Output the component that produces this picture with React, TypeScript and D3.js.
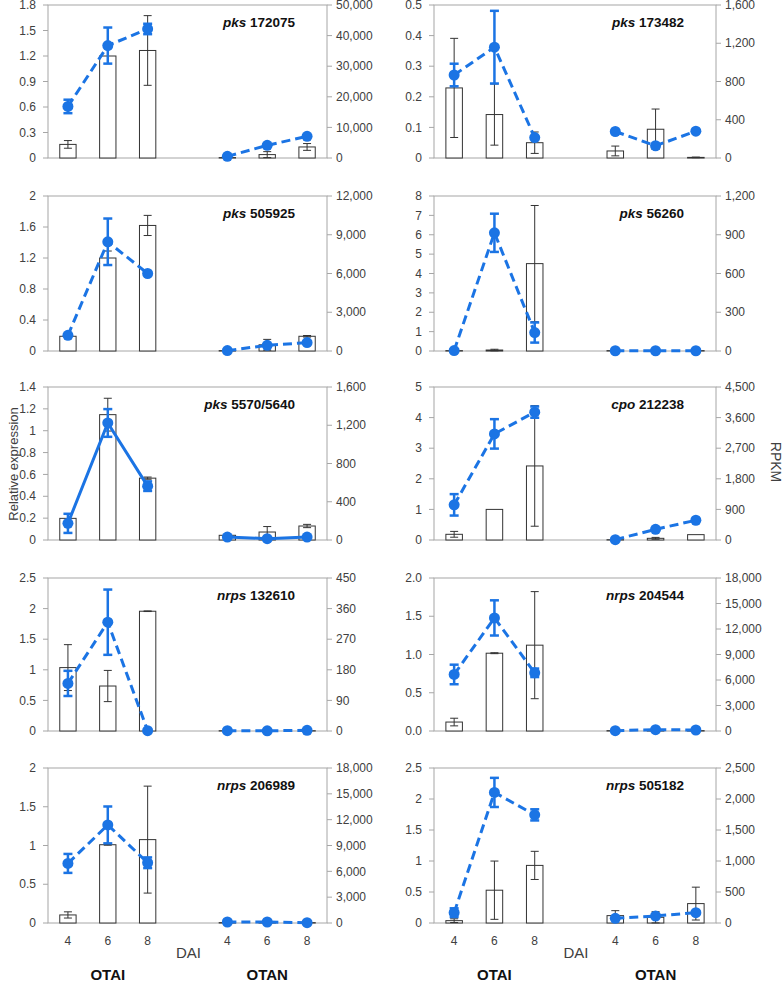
import React from "react";
import * as d3 from "d3";

const categories = ["OTAI-4", "OTAI-6", "OTAI-8", "gap", "OTAN-4", "OTAN-6", "OTAN-8"];
const dayLabels = ["4", "6", "8", "", "4", "6", "8"];
const genePrefixes = ["pks", "pks", "pks", "pks", "pks", "cpo", "nrps", "nrps", "nrps", "nrps"];
const geneIds = ["172075", "173482", "505925", "56260", "5570/5640", "212238", "132610", "204544", "206989", "505182"];

// relative expression (bars), 6 values each: OTAI 4,6,8, OTAN 4,6,8
const barValues = [
  [0.16, 1.2, 1.265, 0.005, 0.04, 0.13],
  [0.229, 0.142, 0.05, 0.023, 0.094, 0.002],
  [0.19, 1.2, 1.62, 0.005, 0.08, 0.19],
  [0.02, 0.05, 4.51, 0.02, 0.02, 0.02],
  [0.198, 1.147, 0.566, 0.043, 0.073, 0.128],
  [0.186, 1.0, 2.42, 0.01, 0.055, 0.175],
  [1.036, 0.735, 1.957, 0.005, 0.005, 0.005],
  [0.117, 1.017, 1.122, 0.005, 0.005, 0.005],
  [0.104, 1.01, 1.076, 0.005, 0.005, 0.005],
  [0.038, 0.529, 0.929, 0.119, 0.092, 0.313],
];
const barErrors = [
  [0.045, 0.0, 0.41, 0.0, 0.035, 0.04],
  [0.162, 0.1, 0.035, 0.016, 0.066, 0.001],
  [0.0, 0.09, 0.13, 0.0, 0.07, 0.01],
  [0.0, 0.04, 3.0, 0.0, 0.0, 0.0],
  [0.0, 0.15, 0.01, 0.005, 0.05, 0.015],
  [0.095, 0.0, 1.97, 0.0, 0.03, 0.0],
  [0.375, 0.255, 0.005, 0.0, 0.0, 0.0],
  [0.05, 0.006, 0.7, 0.0, 0.0, 0.0],
  [0.04, 0.006, 0.69, 0.0, 0.0, 0.0],
  [0.03, 0.47, 0.227, 0.08, 0.09, 0.265],
];
// RPKM (line)
const lineValues = [
  [16850, 36740, 42170, 540, 4130, 7070],
  [868, 1159, 214, 277, 128, 280],
  [1215, 8456, 6000, 30, 440, 650],
  [3, 915, 143, 2, 2, 2],
  [174, 1224, 563, 31, 14, 31],
  [1034, 3121, 3761, 10, 315, 581],
  [140, 320, 1, 1, 0.5, 2],
  [6652, 13304, 6848, 40, 157, 117],
  [6920, 11391, 6998, 117, 117, 39],
  [167, 2106, 1744, 76, 113, 167],
];
const lineErrors = [
  [2200, 5900, 1700, 0, 0, 0],
  [118, 380, 0, 0, 0, 0],
  [0, 1800, 0, 0, 0, 0],
  [0, 148, 78, 0, 0, 0],
  [100, 145, 50, 0, 0, 0],
  [315, 433, 165, 0, 0, 0],
  [37, 96, 0, 0, 0, 0],
  [1150, 2070, 500, 0, 0, 0],
  [1100, 2140, 620, 0, 0, 0],
  [70, 235, 90, 0, 0, 0],
];
const leftMax = [1.8, 0.5, 2, 8, 1.4, 5, 2.5, 2.0, 2, 2.5];
const leftStep = [0.3, 0.1, 0.4, 1, 0.2, 1, 0.5, 0.5, 0.5, 0.5];
const leftFormat = ["~", "~", "~", "~", "~", "~", "~", ".1f", "~", "~"];
const rightMax = [50000, 1600, 12000, 1200, 1600, 4500, 450, 18000, 18000, 2500];
const rightStep = [10000, 400, 3000, 300, 400, 900, 90, 3000, 3000, 500];
const solidLine = [false, false, false, false, true, false, false, false, false, false];

const colX = [
  [48, 327],
  [434, 716],
];
const rowTop = [5, 196, 387, 578, 768];
const rowBottom = [158, 351, 540, 731, 923];

const BLUE = "#1b74e4";
const AXIS = "#a6a6a6";
const TEXT = "#404040";
const FONT = "Liberation Sans, Arial, sans-serif";

function fmtLeft(v: number, f: string) {
  if (f === ".1f") return d3.format(".1f")(v);
  return String(+v.toFixed(2));
}

function Panel({ idx }: { idx: number }) {
  const col = idx % 2;
  const row = Math.floor(idx / 2);
  const [x0, x1] = colX[col];
  const y0 = rowTop[row];
  const y1 = rowBottom[row];
  const x = d3.scaleBand<string>().domain(categories).range([x0, x1]).padding(0);
  const yL = d3.scaleLinear().domain([0, leftMax[idx]]).range([y1, y0]);
  const yR = d3.scaleLinear().domain([0, rightMax[idx]]).range([y1, y0]);
  const dataCats = categories.filter((c) => c !== "gap");
  const bw = x.bandwidth() * 0.41;
  const cx = (c: string) => (x(c) as number) + x.bandwidth() / 2;
  const lTicks = d3.range(0, leftMax[idx] + leftStep[idx] / 2, leftStep[idx]);
  const rTicks = d3.range(0, rightMax[idx] + rightStep[idx] / 2, rightStep[idx]);
  const pts = dataCats.map((c, i) => ({ c, v: lineValues[idx][i], e: lineErrors[idx][i] }));
  const seg1 = pts.slice(0, 3);
  const seg2 = pts.slice(3);
  const line = d3
    .line<{ c: string; v: number }>()
    .x((d) => cx(d.c))
    .y((d) => yR(d.v));
  const isBottom = row === 4;
  return (
    <g>
      {/* plot frame */}
      <rect x={x0} y={y0} width={x1 - x0} height={y1 - y0} fill="none" stroke={AXIS} strokeWidth={1} />
      {lTicks.map((t, i) => (
        <g key={"l" + i}>
          <line x1={x0 - 5} x2={x0} y1={yL(t)} y2={yL(t)} stroke={AXIS} />
          <text x={x0 - 12} y={yL(t)} dy="0.35em" textAnchor="end" fontSize={12} fill={TEXT} fontFamily={FONT}>
            {fmtLeft(t, leftFormat[idx])}
          </text>
        </g>
      ))}
      {rTicks.map((t, i) => (
        <g key={"r" + i}>
          <line x1={x1} x2={x1 + 5} y1={yR(t)} y2={yR(t)} stroke={AXIS} />
          <text x={x1 + 9} y={yR(t)} dy="0.35em" textAnchor="start" fontSize={12} fill={TEXT} fontFamily={FONT}>
            {d3.format(",")(t)}
          </text>
        </g>
      ))}
      {/* bars */}
      {dataCats.map((c, i) => {
        const v = barValues[idx][i];
        return (
          <rect
            key={"b" + i}
            x={cx(c) - bw / 2}
            y={yL(v)}
            width={bw}
            height={yL(0) - yL(v)}
            fill="#fff"
            stroke="#333"
            strokeWidth={1}
          />
        );
      })}
      {dataCats.map((c, i) => {
        const v = barValues[idx][i];
        const e = barErrors[idx][i];
        if (e <= 0) return null;
        const xc = cx(c);
        return (
          <g key={"be" + i} stroke="#333" strokeWidth={1}>
            <line x1={xc} x2={xc} y1={yL(v + e)} y2={yL(Math.max(0, v - e))} />
            <line x1={xc - 4} x2={xc + 4} y1={yL(v + e)} y2={yL(v + e)} />
            <line x1={xc - 4} x2={xc + 4} y1={yL(Math.max(0, v - e))} y2={yL(Math.max(0, v - e))} />
          </g>
        );
      })}
      {/* line series */}
      {[seg1, seg2].map((s, k) => (
        <path
          key={"p" + k}
          d={line(s) as string}
          fill="none"
          stroke={BLUE}
          strokeWidth={3}
          strokeDasharray={solidLine[idx] ? undefined : "9,5"}
        />
      ))}
      {pts.map((p, i) =>
        p.e > 0 ? (
          <g key={"le" + i} stroke={BLUE} strokeWidth={2.5}>
            <line x1={cx(p.c)} x2={cx(p.c)} y1={yR(p.v + p.e)} y2={yR(Math.max(0, p.v - p.e))} />
            <line x1={cx(p.c) - 4.5} x2={cx(p.c) + 4.5} y1={yR(p.v + p.e)} y2={yR(p.v + p.e)} />
            <line
              x1={cx(p.c) - 4.5}
              x2={cx(p.c) + 4.5}
              y1={yR(Math.max(0, p.v - p.e))}
              y2={yR(Math.max(0, p.v - p.e))}
            />
          </g>
        ) : null
      )}
      {pts.map((p, i) => (
        <circle key={"c" + i} cx={cx(p.c)} cy={yR(p.v)} r={5.5} fill={BLUE} />
      ))}
      {/* title */}
      <text x={x1 - 32} y={y0 + 22} textAnchor="end" fontSize={13.5} fontWeight="bold" fill="#111" fontFamily={FONT}>
        <tspan fontStyle="italic">{genePrefixes[idx]}</tspan>
        <tspan> {geneIds[idx]}</tspan>
      </text>
      {isBottom && (
        <g>
          {categories.map((c, i) =>
            dayLabels[i] ? (
              <text key={"x" + i} x={cx(c)} y={y1 + 18} dy="0.35em" textAnchor="middle" fontSize={12} fill={TEXT} fontFamily={FONT}>
                {dayLabels[i]}
              </text>
            ) : null
          )}
          <text x={cx("gap") + 1} y={y1 + 30} dy="0.35em" textAnchor="middle" fontSize={15} fill={TEXT} fontFamily={FONT}>
            DAI
          </text>
          <text x={cx("OTAI-6")} y={y1 + 52} dy="0.35em" textAnchor="middle" fontSize={15} fontWeight="bold" fill="#111" fontFamily={FONT}>
            OTAI
          </text>
          <text x={cx("OTAN-6")} y={y1 + 52} dy="0.35em" textAnchor="middle" fontSize={15} fontWeight="bold" fill="#111" fontFamily={FONT}>
            OTAN
          </text>
        </g>
      )}
    </g>
  );
}

export default function App() {
  return (
    <svg width={784} height={981} style={{ position: "absolute", left: 0, top: 0, background: "#fff" }}>
      <rect width={784} height={981} fill="#fff" />
      {genes().map((i) => (
        <Panel key={i} idx={i} />
      ))}
      <text
        transform="translate(13,464) rotate(-90)"
        textAnchor="middle"
        dy="0.35em"
        fontSize={13}
        fill={TEXT}
        fontFamily={FONT}
      >
        Relative expression
      </text>
      <text
        transform="translate(776,462) rotate(90)"
        textAnchor="middle"
        dy="0.35em"
        fontSize={14}
        fill={TEXT}
        fontFamily={FONT}
      >
        RPKM
      </text>
    </svg>
  );
}

function genes() {
  return geneIds.map((_, i) => i);
}
